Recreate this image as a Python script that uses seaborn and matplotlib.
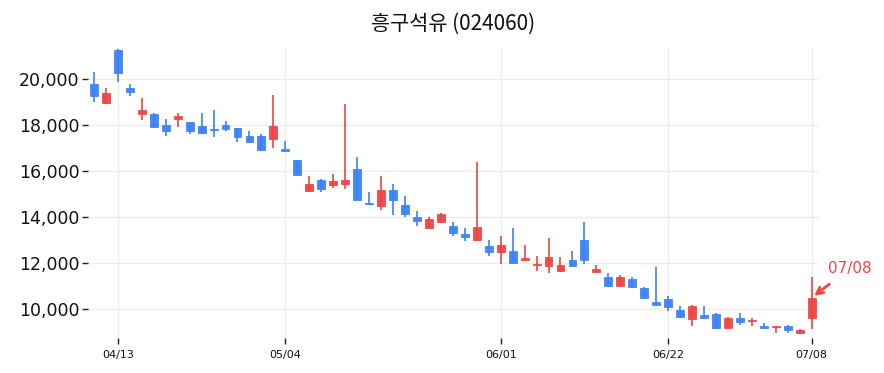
import matplotlib
matplotlib.use("Agg")
import numpy as np
import pandas as pd
import seaborn as sns
import matplotlib.pyplot as plt
from matplotlib.ticker import FuncFormatter

# KRX trading days, 2026-04-09 .. 2026-07-08
holidays = ["2026-05-01", "2026-05-05", "2026-05-25", "2026-06-03"]
dates = pd.bdate_range("2026-04-09", "2026-07-08", freq="C", holidays=holidays)

opens = [19750, 18950, 21250, 19600, 18450, 18450, 18000, 18250, 18100, 17950,
         17800, 18000, 17850, 17500, 17500, 17350, 16950, 16450, 15100, 15600,
         15350, 15400, 16050, 14600, 14450, 15150, 14500, 14000, 13500, 13750,
         13600, 13250, 13000, 12700, 12450, 12500, 12100, 11900, 11850, 11650,
         12100, 13000, 11600, 11350, 11000, 11300, 10900, 10300, 10400, 9950,
         9550, 9700, 9750, 9150, 9600, 9450, 9250, 9200, 9250, 8950, 9600]
highs = [20300, 19600, 21300, 19750, 19150, 18500, 18250, 18500, 18100, 18500,
         18650, 18150, 17850, 17700, 17600, 19300, 17300, 16450, 15750, 15650,
         15850, 18900, 16600, 15050, 15750, 15400, 14900, 14250, 14000, 14150,
         13750, 13500, 16350, 13000, 13150, 13500, 12750, 12300, 13050, 12250,
         12500, 13750, 11900, 11550, 11450, 11350, 10950, 11800, 10550, 10100,
         10150, 10100, 9800, 9650, 9800, 9600, 9350, 9250, 9300, 9100, 11350]
lows = [19000, 18900, 19850, 19250, 18200, 17850, 17500, 17900, 17600, 17650,
        17450, 17700, 17250, 17200, 16850, 17000, 16800, 15750, 15050, 15050,
        15250, 15200, 14700, 14500, 14300, 14050, 14000, 13600, 13500, 13700,
        13150, 12950, 12950, 12300, 11950, 11950, 12100, 11650, 11550, 11600,
        11800, 11950, 11550, 10950, 11000, 10900, 10450, 10150, 9900, 9600,
        9250, 9550, 9100, 9150, 9300, 9250, 9150, 8950, 8950, 8900, 9100]
closes = [19250, 19350, 20250, 19400, 18650, 17900, 17700, 18350, 17700, 17650,
          17750, 17800, 17450, 17250, 16900, 17950, 16850, 15800, 15400, 15200,
          15550, 15600, 14700, 14550, 15150, 14700, 14100, 13800, 13900, 14100,
          13300, 13100, 13550, 12450, 12750, 12000, 12200, 11950, 12250, 11900,
          11850, 12100, 11700, 11000, 11350, 10950, 10450, 10150, 10050, 9650,
          10100, 9600, 9150, 9600, 9400, 9500, 9150, 9250, 9050, 9050, 10450]

tick_dates = ["2026-04-13", "2026-05-04", "2026-06-01", "2026-06-22", "2026-07-08"]
title = "흥구석유 (024060)"

RED = "#ef4444"
BLUE = "#3b82f6"

df = pd.DataFrame({"date": dates, "open": opens, "high": highs,
                   "low": lows, "close": closes})
df["idx"] = np.arange(len(df))
df["color"] = np.where(df["close"] >= df["open"], RED, BLUE)
df["body_lo"] = df[["open", "close"]].min(axis=1)
df["body_h"] = (df["close"] - df["open"]).abs().clip(lower=40)

sns.set_theme(style="white")
plt.rcParams["font.family"] = ["DejaVu Sans"]

fig, ax = plt.subplots(figsize=(8.84, 3.73), dpi=100)
fig.subplots_adjust(left=0.0995, right=0.925, top=0.871, bottom=0.094)

# wicks then bodies
ax.vlines(df["idx"], df["low"], df["high"], colors=df["color"], lw=1.2, zorder=2)
ax.bar(df["idx"], df["body_h"], bottom=df["body_lo"], width=0.66,
       color=df["color"], edgecolor=df["color"], linewidth=0.6, alpha=0.95, zorder=3)

ax.set_xlim(-0.5, len(df) - 0.5)
ax.set_ylim(df["low"].min() * 0.98, df["high"].max() * 1.001)

pos = [int(df.index[df["date"] == pd.Timestamp(d)][0]) for d in tick_dates]
ax.set_xticks(pos)
ax.set_xticklabels([pd.Timestamp(d).strftime("%m/%d") for d in tick_dates])
ax.set_yticks(np.arange(10000, 20001, 2000))
ax.yaxis.set_major_formatter(FuncFormatter(lambda v, p: f"{v:,.0f}"))

ax.grid(True, color="#ececec", lw=1, zorder=0)
ax.set_axisbelow(True)
for s in ax.spines.values():
    s.set_visible(False)
ax.tick_params(axis="y", left=True, length=4, width=1, color="#222222",
               labelsize=12.5, pad=2, labelcolor="#111111")
ax.tick_params(axis="x", bottom=True, length=4, width=1, color="#222222",
               labelsize=8, pad=5, labelcolor="#111111")

ax.set_title(title, fontsize=15, pad=13,
             family=["Noto Sans CJK KR", "DejaVu Sans"], color="#111111")

last = df.iloc[-1]
ax.annotate(last["date"].strftime("%m/%d"), xy=(last["idx"] + 0.2, 10550),
            xytext=(last["idx"] + 3.2, 11750), ha="center", va="center",
            fontsize=11, color=RED, annotation_clip=False,
            arrowprops=dict(arrowstyle="->", color=RED, lw=2,
                            shrinkA=6, shrinkB=0, mutation_scale=12))

fig.savefig("out.png", dpi=100)
